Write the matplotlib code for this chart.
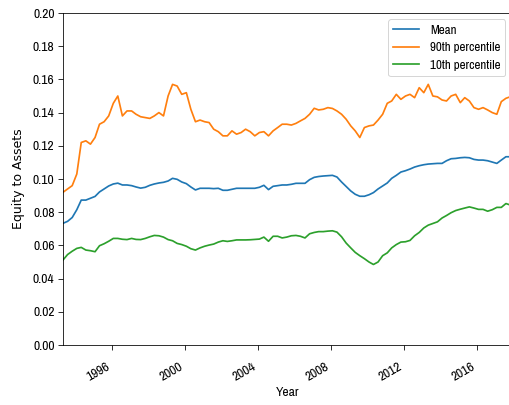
import matplotlib
matplotlib.use("Agg")
import matplotlib.pyplot as plt
import matplotlib.dates as mdates
from matplotlib import font_manager as fm
import pandas as pd

# Quarterly equity-to-assets ratios
dates = pd.date_range("1993-05-01", periods=99, freq="3MS")

mean_ratio = [
    0.0733, 0.0745, 0.0768, 0.0815, 0.0873, 0.0873, 0.0884, 0.0895, 0.0922, 0.0940,
    0.0958, 0.0970, 0.0975, 0.0964, 0.0964, 0.0960, 0.0952, 0.0945, 0.0950, 0.0962,
    0.0970, 0.0976, 0.0980, 0.0988, 0.1004, 0.0998, 0.0982, 0.0972, 0.0952, 0.0934,
    0.0944, 0.0944, 0.0944, 0.0942, 0.0944, 0.0932, 0.0932, 0.0938, 0.0944, 0.0944,
    0.0944, 0.0944, 0.0944, 0.0950, 0.0962, 0.0936, 0.0956, 0.0960, 0.0964, 0.0964,
    0.0968, 0.0974, 0.0974, 0.0974, 0.0996, 0.1010, 0.1015, 0.1018, 0.1020, 0.1022,
    0.1012, 0.0982, 0.0955, 0.0928, 0.0908, 0.0896, 0.0896, 0.0905, 0.0918, 0.0940,
    0.0958, 0.0976, 0.1004, 0.1022, 0.1042, 0.1050, 0.1060, 0.1072, 0.1080, 0.1086,
    0.1090, 0.1092, 0.1094, 0.1094, 0.1110, 0.1122, 0.1124, 0.1128, 0.1130, 0.1128,
    0.1118, 0.1114, 0.1114, 0.1110, 0.1102, 0.1094, 0.1114, 0.1134, 0.1134,
]

p90_ratio = [
    0.0920, 0.0940, 0.0960, 0.1030, 0.1220, 0.1230, 0.1210, 0.1250, 0.1330, 0.1345,
    0.1380, 0.1456, 0.1500, 0.1380, 0.1410, 0.1410, 0.1390, 0.1375, 0.1370, 0.1365,
    0.1380, 0.1400, 0.1380, 0.1500, 0.1570, 0.1560, 0.1510, 0.1520, 0.1420, 0.1345,
    0.1355, 0.1345, 0.1340, 0.1300, 0.1285, 0.1260, 0.1260, 0.1290, 0.1270, 0.1280,
    0.1300, 0.1285, 0.1260, 0.1280, 0.1285, 0.1260, 0.1290, 0.1310, 0.1330, 0.1330,
    0.1325, 0.1335, 0.1350, 0.1365, 0.1390, 0.1426, 0.1416, 0.1420, 0.1430, 0.1425,
    0.1410, 0.1390, 0.1360, 0.1320, 0.1290, 0.1250, 0.1310, 0.1320, 0.1325, 0.1355,
    0.1390, 0.1456, 0.1470, 0.1510, 0.1480, 0.1500, 0.1510, 0.1490, 0.1550, 0.1520,
    0.1570, 0.1500, 0.1495, 0.1476, 0.1470, 0.1500, 0.1510, 0.1460, 0.1490, 0.1470,
    0.1430, 0.1420, 0.1430, 0.1416, 0.1400, 0.1390, 0.1466, 0.1486, 0.1496,
]

p10_ratio = [
    0.0512, 0.0545, 0.0565, 0.0582, 0.0588, 0.0572, 0.0568, 0.0562, 0.0598, 0.0610,
    0.0625, 0.0642, 0.0642, 0.0637, 0.0635, 0.0642, 0.0636, 0.0635, 0.0642, 0.0652,
    0.0660, 0.0658, 0.0650, 0.0635, 0.0628, 0.0612, 0.0605, 0.0595, 0.0580, 0.0572,
    0.0585, 0.0595, 0.0602, 0.0608, 0.0620, 0.0628, 0.0624, 0.0628, 0.0633, 0.0633,
    0.0633, 0.0634, 0.0636, 0.0638, 0.0650, 0.0625, 0.0655, 0.0655, 0.0645, 0.0650,
    0.0658, 0.0660, 0.0655, 0.0645, 0.0670, 0.0678, 0.0683, 0.0683, 0.0686, 0.0688,
    0.0680, 0.0652, 0.0614, 0.0585, 0.0558, 0.0538, 0.0520, 0.0500, 0.0485, 0.0500,
    0.0538, 0.0555, 0.0585, 0.0605, 0.0620, 0.0622, 0.0630, 0.0658, 0.0678, 0.0705,
    0.0722, 0.0732, 0.0742, 0.0765, 0.0780, 0.0797, 0.0810, 0.0818, 0.0825, 0.0832,
    0.0825, 0.0817, 0.0817, 0.0806, 0.0815, 0.0829, 0.0829, 0.0852, 0.0843,
]

series_labels = ["Mean", "90th percentile", "10th percentile"]
year_ticks = [1996, 2000, 2004, 2008, 2012, 2016]

# Pick a narrow sans face if one is available
installed = {f.name for f in fm.fontManager.ttflist}
family = next((f for f in ["Liberation Sans Narrow", "Archivo Narrow", "DejaVu Sans"]
               if f in installed), "DejaVu Sans")
plt.rcParams["font.family"] = [family, "DejaVu Sans"]

FS = 13.5
W, H, DPI = 509, 405, 72
fig = plt.figure(figsize=(W / DPI, H / DPI), dpi=DPI)
ax = fig.add_axes([63 / W, (H - 345) / H, (512 - 63) / W, (345 - 13) / H])

for vals, lab in zip([mean_ratio, p90_ratio, p10_ratio], series_labels):
    ax.plot(dates, vals, label=lab, linewidth=1.7)

ax.set_xlim(dates[0], dates[-1] + pd.DateOffset(months=1))
ax.set_ylim(0, 0.20)
ax.set_yticks([i * 0.02 for i in range(11)])
ax.yaxis.set_major_formatter(matplotlib.ticker.FormatStrFormatter("%.2f"))
ax.set_xticks([pd.Timestamp(f"{y}-01-01") for y in year_ticks])
ax.xaxis.set_major_formatter(mdates.DateFormatter("%Y"))
ax.tick_params(labelsize=FS, length=5)
ax.tick_params(axis="x", pad=11)
for lbl in ax.get_xticklabels():
    lbl.set_rotation(30)
    lbl.set_ha("right")

ax.set_xlabel("Year", fontsize=FS)
ax.set_ylabel("Equity to Assets", fontsize=12.5, family="DejaVu Sans")
ax.yaxis.set_label_coords(-0.085, 0.5)
ax.legend(loc="upper right", fontsize=13, handlelength=2.0)

fig.savefig("out.png", dpi=DPI)
